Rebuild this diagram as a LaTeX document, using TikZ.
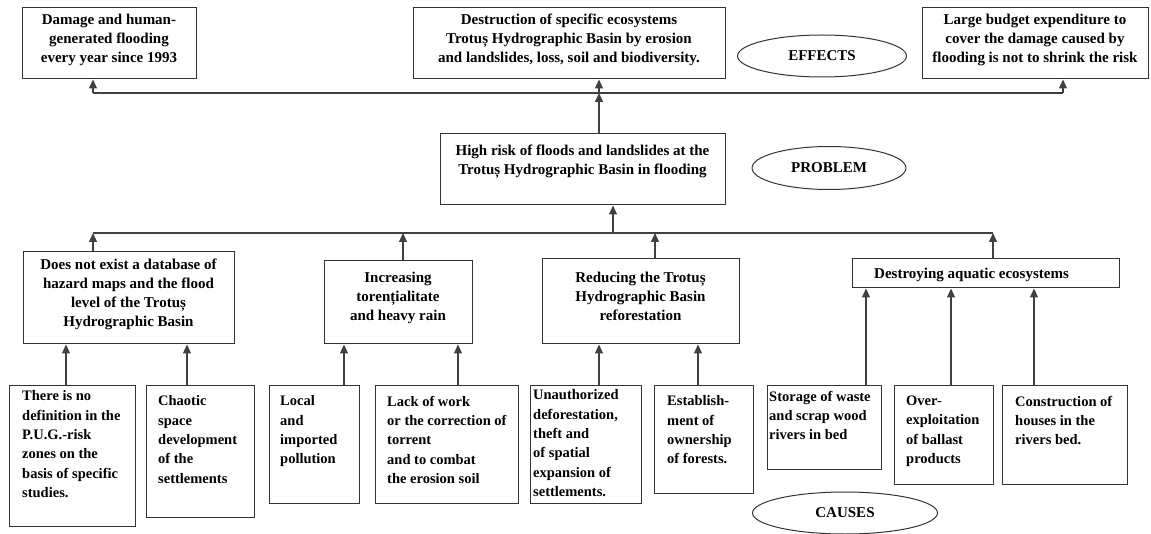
\documentclass[tikz,border=0pt]{standalone}
\usepackage{fontspec}
\setmainfont{Liberation Serif}
\usetikzlibrary{arrows.meta,shapes.geometric}
\newcommand\fntA{\fontsize{15}{19}\selectfont\bfseries}
\newcommand\fntB{\fontsize{14.5}{19.3}\selectfont\bfseries}
\tikzset{
 box/.style={draw=black!80, line width=1pt, inner sep=0pt, fill=white},
 ctxt/.style={inner sep=0pt, anchor=north, align=center, font=\fntA, execute at begin node=\strut},
 ltxt/.style={inner sep=0pt, anchor=north west, align=left, font=\fntB, execute at begin node=\strut},
 oval/.style={ellipse, draw=black!80, line width=1pt, inner sep=0pt, font=\fontsize{15}{18}\selectfont\bfseries},
 conn/.style={draw=black!75, line width=1.2pt},
 arr/.style={conn, -{Triangle[width=8pt,length=9pt]}},
}
\begin{document}
\begin{tikzpicture}[x=1pt,y=-1pt]
\useasboundingbox (0,0) rectangle (1151,534);
% effects
\node[box, minimum width=174pt, minimum height=71pt] (E1) at (109,43.5) {};
\node[ctxt] (E1t) at (109,13.5) {Damage and human-\\generated flooding\\every year since 1993};
\node[box, minimum width=312pt, minimum height=71pt] (E2) at (569,43.5) {};
\node[ctxt] (E2t) at (569,13.5) {Destruction of specific ecosystems\\Trotuș Hydrographic Basin by erosion\\and landslides, loss, soil and biodiversity.};
\node[box, minimum width=226pt, minimum height=71pt] (E3) at (1035,43.5) {};
\node[ctxt] (E3t) at (1035,13.5) {Large budget expenditure to\\cover the damage caused by\\flooding is not to shrink the risk};
\node[oval, minimum width=169pt, minimum height=42pt] (eff) at (822,56) {EFFECTS};
% problem
\node[box, minimum width=285pt, minimum height=71pt] (P) at (582.5,169.5) {};
\node[ctxt] (Pt) at (582.5,144.5) {High risk of floods and landslides at the\\Trotuș Hydrographic Basin in flooding};
\node[oval, minimum width=154pt, minimum height=43pt] (prob) at (829,168) {PROBLEM};
% cause level 1
\node[box, minimum width=211pt, minimum height=92pt] (C1) at (128.5,298) {};
\node[ctxt] (C1t) at (128.5,258.5) {Does not exist a database of\\hazard maps and the flood\\level of the Trotuș\\Hydrographic Basin};
\node[box, minimum width=148pt, minimum height=83pt] (C2) at (398,302.5) {};
\node[ctxt] (C2t) at (398,271.5) {Increasing\\torențialitate\\and heavy rain};
\node[box, minimum width=197pt, minimum height=85pt] (C3) at (640.5,301.5) {};
\node[ctxt] (C3t) at (640.5,271.5) {Reducing the Trotuș\\Hydrographic Basin\\reforestation};
\node[box, minimum width=267pt, minimum height=29pt] (C4) at (985.5,273.5) {};
\node[ltxt, font=\fntA] (C4t) at (874,265.5) {Destroying aquatic ecosystems};
% cause level 2
\node[box, minimum width=126pt, minimum height=140pt] (B1) at (72,456) {};
\node[ltxt] (B1t) at (22,390.7) {There is no\\definition in the\\P.U.G.-risk\\zones on the\\basis of specific\\studies.};
\node[box, minimum width=108pt, minimum height=131pt] (B2) at (200,451.5) {};
\node[ltxt] (B2t) at (158,395.7) {Chaotic\\space\\development\\of the\\settlements};
\node[box, minimum width=90pt, minimum height=117pt] (B3) at (314,444.5) {};
\node[ltxt] (B3t) at (280,395.7) {Local\\and\\imported\\pollution};
\node[box, minimum width=143pt, minimum height=117pt] (B4) at (446.5,444.5) {};
\node[ltxt] (B4t) at (387,395.7) {Lack of work\\or the correction of\\torrent\\and to combat\\the erosion soil};
\node[box, minimum width=111pt, minimum height=117pt] (B5) at (585.5,444.5) {};
\node[ltxt] (B5t) at (533,389.7) {Unauthorized\\deforestation,\\theft and\\of spatial\\expansion of\\settlements.};
\node[box, minimum width=99pt, minimum height=107pt] (B6) at (703.5,439.5) {};
\node[ltxt] (B6t) at (667,395.7) {Establish-\\ment of\\ownership\\of forests.};
\node[box, minimum width=114pt, minimum height=83pt] (B7) at (824,427.5) {};
\node[ltxt] (B7t) at (769,390.7) {Storage of waste\\and scrap wood\\rivers in bed};
\node[box, minimum width=99pt, minimum height=98pt] (B8) at (943.5,435) {};
\node[ltxt] (B8t) at (906,395.7) {Over-\\exploitation\\of ballast\\products};
\node[box, minimum width=125pt, minimum height=98pt] (B9) at (1064.5,435) {};
\node[ltxt] (B9t) at (1015,395.7) {Construction of\\houses in the\\rivers bed.};
\node[oval, minimum width=185pt, minimum height=42pt] (cau) at (845,513) {CAUSES};
% junction coordinates
\coordinate (tl) at (93,93);
\coordinate (tr) at (1063,93);
\coordinate (tm) at (599,93);
\coordinate (ml) at (93,233);
\coordinate (m2) at (403,233);
\coordinate (mp) at (613,233);
\coordinate (m3) at (655,233);
\coordinate (mr) at (993,233);
\coordinate (k1) at (66,0);
\coordinate (k2) at (187,0);
\coordinate (k3) at (344,0);
\coordinate (k4) at (458,0);
\coordinate (k5) at (599,0);
\coordinate (k6) at (698,0);
\coordinate (k7) at (866,0);
\coordinate (k8) at (951,0);
\coordinate (k9) at (1034,0);
% top connectors
\draw[conn] (tl) -- (tr);
\draw[arr] (tl) -- (tl |- E1.south);
\draw[arr] (tr) -- (tr |- E3.south);
\draw[arr] (tm |- P.north) -- (tm);
\draw[arr] (tm) -- (tm |- E2.south);
% middle connectors
\draw[conn] (ml) -- (mr);
\draw[arr] (mp) -- (mp |- P.south);
\draw[arr] (ml |- C1.north) -- (ml);
\draw[arr] (m2 |- C2.north) -- (m2);
\draw[arr] (m3 |- C3.north) -- (m3);
\draw[arr] (mr |- C4.north) -- (mr);
% bottom connectors
\draw[arr] (k1 |- B1.north) -- (k1 |- C1.south);
\draw[arr] (k2 |- B2.north) -- (k2 |- C1.south);
\draw[arr] (k3 |- B3.north) -- (k3 |- C2.south);
\draw[arr] (k4 |- B4.north) -- (k4 |- C2.south);
\draw[arr] (k5 |- B5.north) -- (k5 |- C3.south);
\draw[arr] (k6 |- B6.north) -- (k6 |- C3.south);
\draw[arr] (k7 |- B7.north) -- (k7 |- C4.south);
\draw[arr] (k8 |- B8.north) -- (k8 |- C4.south);
\draw[arr] (k9 |- B9.north) -- (k9 |- C4.south);
\end{tikzpicture}
\end{document}
